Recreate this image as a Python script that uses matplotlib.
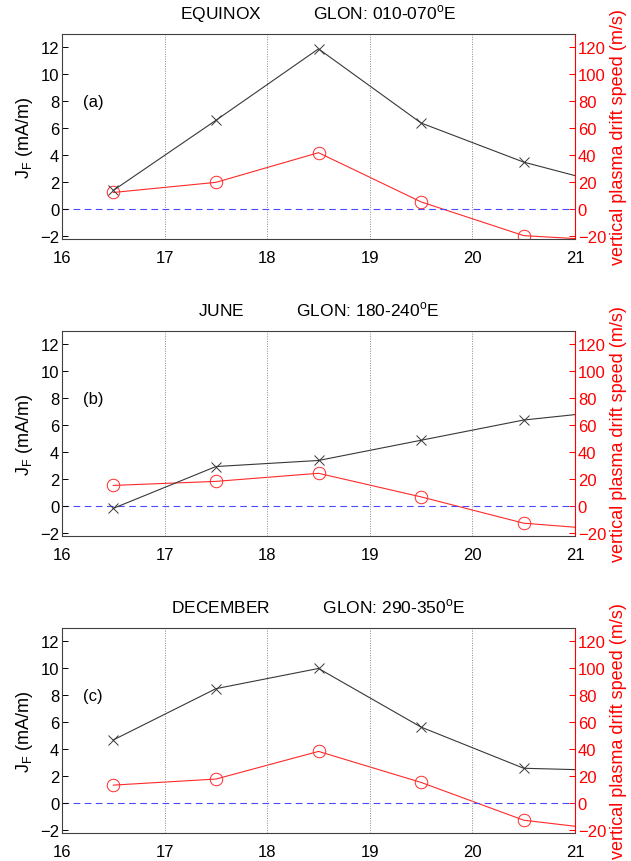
import matplotlib
matplotlib.use('Agg')
import matplotlib.pyplot as plt

plt.rcParams['font.family'] = ['Liberation Sans', 'DejaVu Sans']

# ---- data ----
hours = [16.5, 17.5, 18.5, 19.5, 20.5, 21.0]
season_titles = ['EQUINOX', 'JUNE', 'DECEMBER']
glon_labels = ['010-070', '180-240', '290-350']
panel_tags = ['(a)', '(b)', '(c)']
jf_equinox = [1.4, 6.6, 11.9, 6.4, 3.5, 2.5]
jf_june = [-0.15, 2.95, 3.4, 4.9, 6.4, 6.8]
jf_december = [4.7, 8.5, 10.0, 5.65, 2.6, 2.5]
vz_equinox = [12.5, 20.0, 42.0, 5.5, -19.5, -21.7]
vz_june = [15.5, 18.5, 24.5, 7.0, -12.5, -15.5]
vz_december = [13.5, 18.0, 38.5, 15.5, -12.5, -17.0]
x_ticks = [16, 17, 18, 19, 20, 21]
jf_ticks = [-2, 0, 2, 4, 6, 8, 10, 12]
vz_ticks = [-20, 0, 20, 40, 60, 80, 100, 120]

jf_all = [jf_equinox, jf_june, jf_december]
vz_all = [vz_equinox, vz_june, vz_december]

W, H = 631, 862
fig = plt.figure(figsize=(W / 100, H / 100), dpi=100)

left_px, right_px = 62, 575
ax_h_px = 205
bottoms_px = [240, 537, 834]

spine_grey = '#404040'
for i in range(3):
    bot = bottoms_px[i]
    ax = fig.add_axes([left_px / W, 1 - bot / H,
                       (right_px - left_px) / W, ax_h_px / H])
    ax2 = ax.twinx()
    ax.set_zorder(ax2.get_zorder() + 1)
    ax.patch.set_visible(False)

    ax.axhline(0, color='#4a4aff', lw=0.8, ls=(0, (6, 4)), zorder=1)
    for xv in x_ticks[1:-1]:
        ax.axvline(xv, color='#8a8a8a', lw=0.7, ls=(0, (1, 1.5)), zorder=0)

    ax.plot(hours, jf_all[i], color='#383838', lw=0.8, marker='x',
            markersize=7, markeredgewidth=0.7, markevery=[0, 1, 2, 3, 4],
            zorder=3)
    ax2.plot(hours, vz_all[i], color='#ff2a2a', lw=0.8, marker='o',
             markersize=9, markerfacecolor='none', markeredgewidth=0.7,
             markevery=[0, 1, 2, 3, 4])

    ax.set_xlim(16, 21)
    ax.set_ylim(-2.2, 13)
    ax2.set_ylim(-22, 130)
    ax.set_xticks(x_ticks)
    ax.set_yticks(jf_ticks)
    ax2.set_yticks(vz_ticks)

    ax.tick_params(axis='both', direction='in', length=4, width=0.7,
                   labelsize=12, colors='black', pad=2)
    ax.tick_params(axis='x', length=0, pad=8)
    ax2.tick_params(axis='y', direction='in', length=4, width=0.7,
                    labelsize=12, colors='red', pad=2)

    for s in ['left', 'top', 'bottom']:
        ax.spines[s].set_color(spine_grey)
        ax.spines[s].set_linewidth(0.8)
        ax2.spines[s].set_visible(False)
    ax.spines['right'].set_visible(False)
    ax2.spines['right'].set_color('red')
    ax2.spines['right'].set_linewidth(0.8)

    ax.set_ylabel('J$_\\mathregular{F}$ (mA/m)', fontsize=13, labelpad=4)
    ax2.set_ylabel('vertical plasma drift speed (m/s)', fontsize=13,
                   color='red', labelpad=3)

    ax.set_title(season_titles[i] + '           GLON: ' + glon_labels[i]
                 + '$^\\mathregular{o}$E', fontsize=12.5, pad=11)
    ax.text(16.2, 8, panel_tags[i], fontsize=12, ha='left', va='center')

fig.savefig('out.png', dpi=100)
